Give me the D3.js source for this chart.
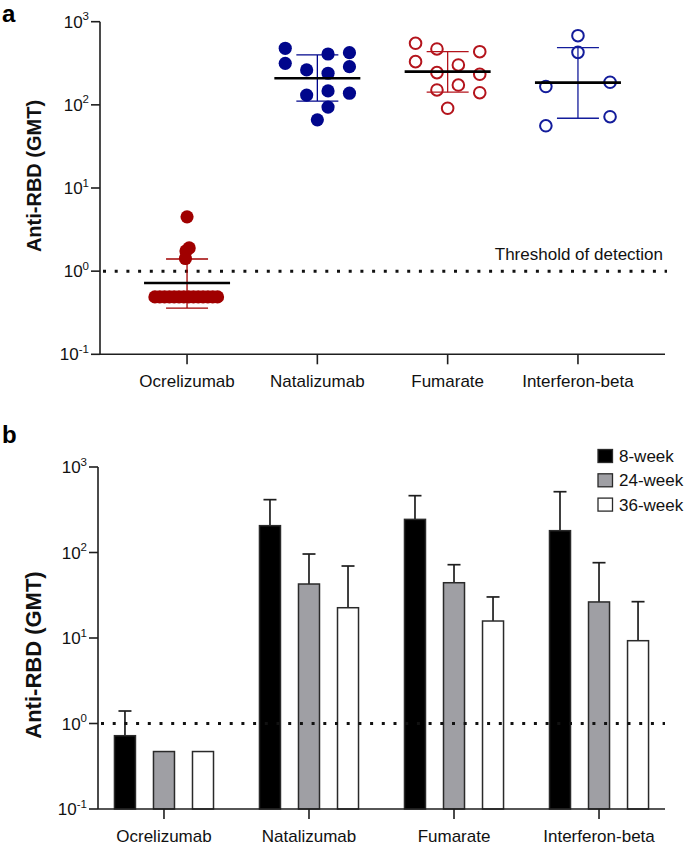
<!DOCTYPE html>
<html><head><meta charset="utf-8">
<script src="https://cdn.jsdelivr.net/npm/d3@7"></script>
<style>
html,body{margin:0;padding:0;background:#fff;}
svg{display:block;font-family:"Liberation Sans",Arial,Helvetica,sans-serif;}
</style></head>
<body><svg id="chart" width="685" height="845"></svg>
<script>
// ---------- data ----------
const categories = ["Ocrelizumab", "Natalizumab", "Fumarate", "Interferon-beta"];
const yTicks = [0.1, 1, 10, 100, 1000];
const yTickExp = ["-1", "0", "1", "2", "3"];
const threshold = 1;

// panel a: individual titres (GMT) and swarm column index
const ocrelizumabPts = [4.5, 1.9, 1.75, 1.42, 0.49, 0.49, 0.49, 0.49, 0.49, 0.49, 0.49, 0.49, 0.49, 0.49, 0.49, 0.49, 0.49, 0.49];
const ocrelizumabCol = [0, 0.2, -0.1, -0.15, -3, -2.55, -2.1, -1.65, -1.2, -0.75, -0.3, 0.15, 0.6, 1.05, 1.5, 1.95, 2.4, 2.85];
const natalizumabPts = [479, 316, 263, 409, 424, 288, 240, 131, 147, 138, 94, 66];
const natalizumabCol = [-3, -3, -1, 1, 3, 3, 1, -1, 1, 3, 1, 0];
const fumaratePts = [550, 470, 436, 331, 302, 244, 233, 173, 151, 140, 91];
const fumarateCol = [-3, -1, 3, -3, 1, -1, 3, 1, -1, 3, 0];
const interferonPts = [679, 428, 166, 187, 56, 72];
const interferonCol = [0, 0, -3, 3, -3, 3];
const gmtMean = [0.72, 209, 251, 185];
const gmtLow = [0.36, 111, 142, 69];
const gmtHigh = [1.4, 398, 436, 487];

// panel b: GMT by timepoint with upper error
const series = ["8-week", "24-week", "36-week"];
const week8 = [0.72, 206, 244, 180];
const week8Err = [1.4, 415, 462, 514];
const week24 = [0.47, 42.8, 44.3, 26.4];
const week24Err = [null, 96, 72, 76];
const week36 = [0.47, 22.6, 15.8, 9.3];
const week36Err = [null, 69.5, 30.2, 26.6];

// ---------- drawing ----------
const svg = d3.select("#chart");
const AX = "#1e1e1e";

function yAxisLog(g, y, x0) {
  const ax = g.append("g");
  ax.append("line").attr("x1", x0).attr("x2", x0).attr("y1", y(1000)).attr("y2", y(0.1))
    .attr("stroke", AX).attr("stroke-width", 1.6);
  yTicks.forEach((t, i) => {
    ax.append("line").attr("x1", x0 - 9).attr("x2", x0).attr("y1", y(t)).attr("y2", y(t))
      .attr("stroke", AX).attr("stroke-width", 1.6);
    const tx = ax.append("text").attr("x", x0 - 11).attr("y", y(t) + 6)
      .attr("text-anchor", "end").attr("font-size", 17).attr("fill", "#111");
    tx.append("tspan").text("10");
    tx.append("tspan").attr("font-size", 11.5).attr("dy", -7.5).text(yTickExp[i]);
  });
}

function xAxisCat(g, x, y0, xStart, xEnd) {
  g.append("line").attr("x1", xStart).attr("x2", xEnd).attr("y1", y0).attr("y2", y0)
    .attr("stroke", AX).attr("stroke-width", 1.6);
  categories.forEach(c => {
    g.append("line").attr("x1", x(c)).attr("x2", x(c)).attr("y1", y0).attr("y2", y0 + 10)
      .attr("stroke", AX).attr("stroke-width", 1.6);
    g.append("text").attr("x", x(c)).attr("y", y0 + 33).attr("text-anchor", "middle")
      .attr("font-size", 17).attr("fill", "#111").text(c);
  });
}

function threshLine(g, y, xStart, xEnd) {
  g.append("line").attr("x1", xStart + 3).attr("x2", xEnd).attr("y1", y(threshold)).attr("y2", y(threshold))
    .attr("stroke", "#111").attr("stroke-width", 3).attr("stroke-dasharray", "3,8.7");
}

// ----- panel a -----
const gA = svg.append("g");
const xA = d3.scalePoint().domain(categories).range([100, 665]).padding(0.668);
const yA = d3.scaleLog().domain([0.1, 1000]).range([354.3, 21.7]);
const pitch = 10.7;

gA.append("text").attr("x", 2).attr("y", 22).attr("font-size", 24).attr("font-weight", "bold").text("a");
gA.append("text").attr("transform", `translate(41,${176}) rotate(-90)`).attr("text-anchor", "middle")
  .attr("font-size", 20).attr("font-weight", "bold").attr("fill", "#111").text("Anti-RBD (GMT)");

threshLine(gA, yA, 100, 667);
gA.append("text").attr("x", 663).attr("y", 260).attr("text-anchor", "end").attr("font-size", 17)
  .attr("fill", "#111").text("Threshold of detection");

const groupsA = [
  { pts: ocrelizumabPts, col: ocrelizumabCol, color: "#a00000", filled: true },
  { pts: natalizumabPts, col: natalizumabCol, color: "#00068c", filled: true },
  { pts: fumaratePts, col: fumarateCol, color: "#b4141c", filled: false },
  { pts: interferonPts, col: interferonCol, color: "#131c9b", filled: false }
];

groupsA.forEach((grp, i) => {
  const cx = xA(categories[i]);
  const gg = gA.append("g");
  gg.selectAll("circle").data(grp.pts).join("circle")
    .attr("cx", (d, j) => cx + grp.col[j] * pitch)
    .attr("cy", d => yA(d))
    .attr("r", grp.filled ? 6.6 : 5.8)
    .attr("fill", grp.filled ? grp.color : "none")
    .attr("stroke", grp.color)
    .attr("stroke-width", grp.filled ? 0 : 2);
  gg.append("line").attr("x1", cx).attr("x2", cx).attr("y1", yA(gmtLow[i])).attr("y2", yA(gmtHigh[i]))
    .attr("stroke", grp.color).attr("stroke-width", 1.3);
  [gmtLow[i], gmtHigh[i]].forEach(v => {
    gg.append("line").attr("x1", cx - 21).attr("x2", cx + 21).attr("y1", yA(v)).attr("y2", yA(v))
      .attr("stroke", grp.color).attr("stroke-width", 1.3);
  });
  gg.append("line").attr("x1", cx - 43).attr("x2", cx + 43).attr("y1", yA(gmtMean[i])).attr("y2", yA(gmtMean[i]))
    .attr("stroke", "#000").attr("stroke-width", 2.6);
});

yAxisLog(gA, yA, 100);
xAxisCat(gA, xA, yA(0.1), 100, 665);

// ----- panel b -----
const gB = svg.append("g");
const xB = d3.scalePoint().domain(categories).range([98, 665]).padding(0.455);
const xSub = d3.scaleBand().domain(series).range([-58.5, 58.5]).paddingInner(0.4615).paddingOuter(0.23);
const yB = d3.scaleLog().domain([0.1, 1000]).range([809, 467]);
const seriesVals = [week8, week24, week36];
const seriesErr = [week8Err, week24Err, week36Err];
const seriesFill = ["#000000", "#9f9fa4", "#ffffff"];

gB.append("text").attr("x", 2).attr("y", 443).attr("font-size", 24).attr("font-weight", "bold").text("b");
gB.append("text").attr("transform", `translate(41,${655}) rotate(-90)`).attr("text-anchor", "middle")
  .attr("font-size", 22).attr("font-weight", "bold").attr("fill", "#111").text("Anti-RBD (GMT)");

series.forEach((s, si) => {
  const gs = gB.append("g");
  categories.forEach((c, ci) => {
    const v = seriesVals[si][ci];
    const x0 = xB(c) + xSub(s);
    const bw = xSub.bandwidth();
    const e = seriesErr[si][ci];
    if (e != null) {
      gs.append("line").attr("x1", x0 + bw / 2).attr("x2", x0 + bw / 2).attr("y1", yB(v)).attr("y2", yB(e))
        .attr("stroke", "#1e1e1e").attr("stroke-width", 1.7);
      gs.append("line").attr("x1", x0 + bw / 2 - 6.5).attr("x2", x0 + bw / 2 + 6.5).attr("y1", yB(e)).attr("y2", yB(e))
        .attr("stroke", "#1e1e1e").attr("stroke-width", 1.7);
    }
    gs.append("rect").attr("x", x0).attr("y", yB(v)).attr("width", bw).attr("height", yB(0.1) - yB(v))
      .attr("fill", seriesFill[si]).attr("stroke", "#2a2a2a").attr("stroke-width", 1.5);
  });
});

threshLine(gB, yB, 98, 665);
yAxisLog(gB, yB, 98);
xAxisCat(gB, xB, yB(0.1), 98, 665);

// legend
const lg = gB.append("g");
series.forEach((s, i) => {
  const cy = 456 + i * 24.3;
  lg.append("rect").attr("x", 598).attr("y", cy - 6.5).attr("width", 14.5).attr("height", 13)
    .attr("fill", seriesFill[i]).attr("stroke", "#2a2a2a").attr("stroke-width", 1.3);
  lg.append("text").attr("x", 619).attr("y", cy + 6).attr("font-size", 17).attr("fill", "#111").text(s);
});
</script>
</body></html>
